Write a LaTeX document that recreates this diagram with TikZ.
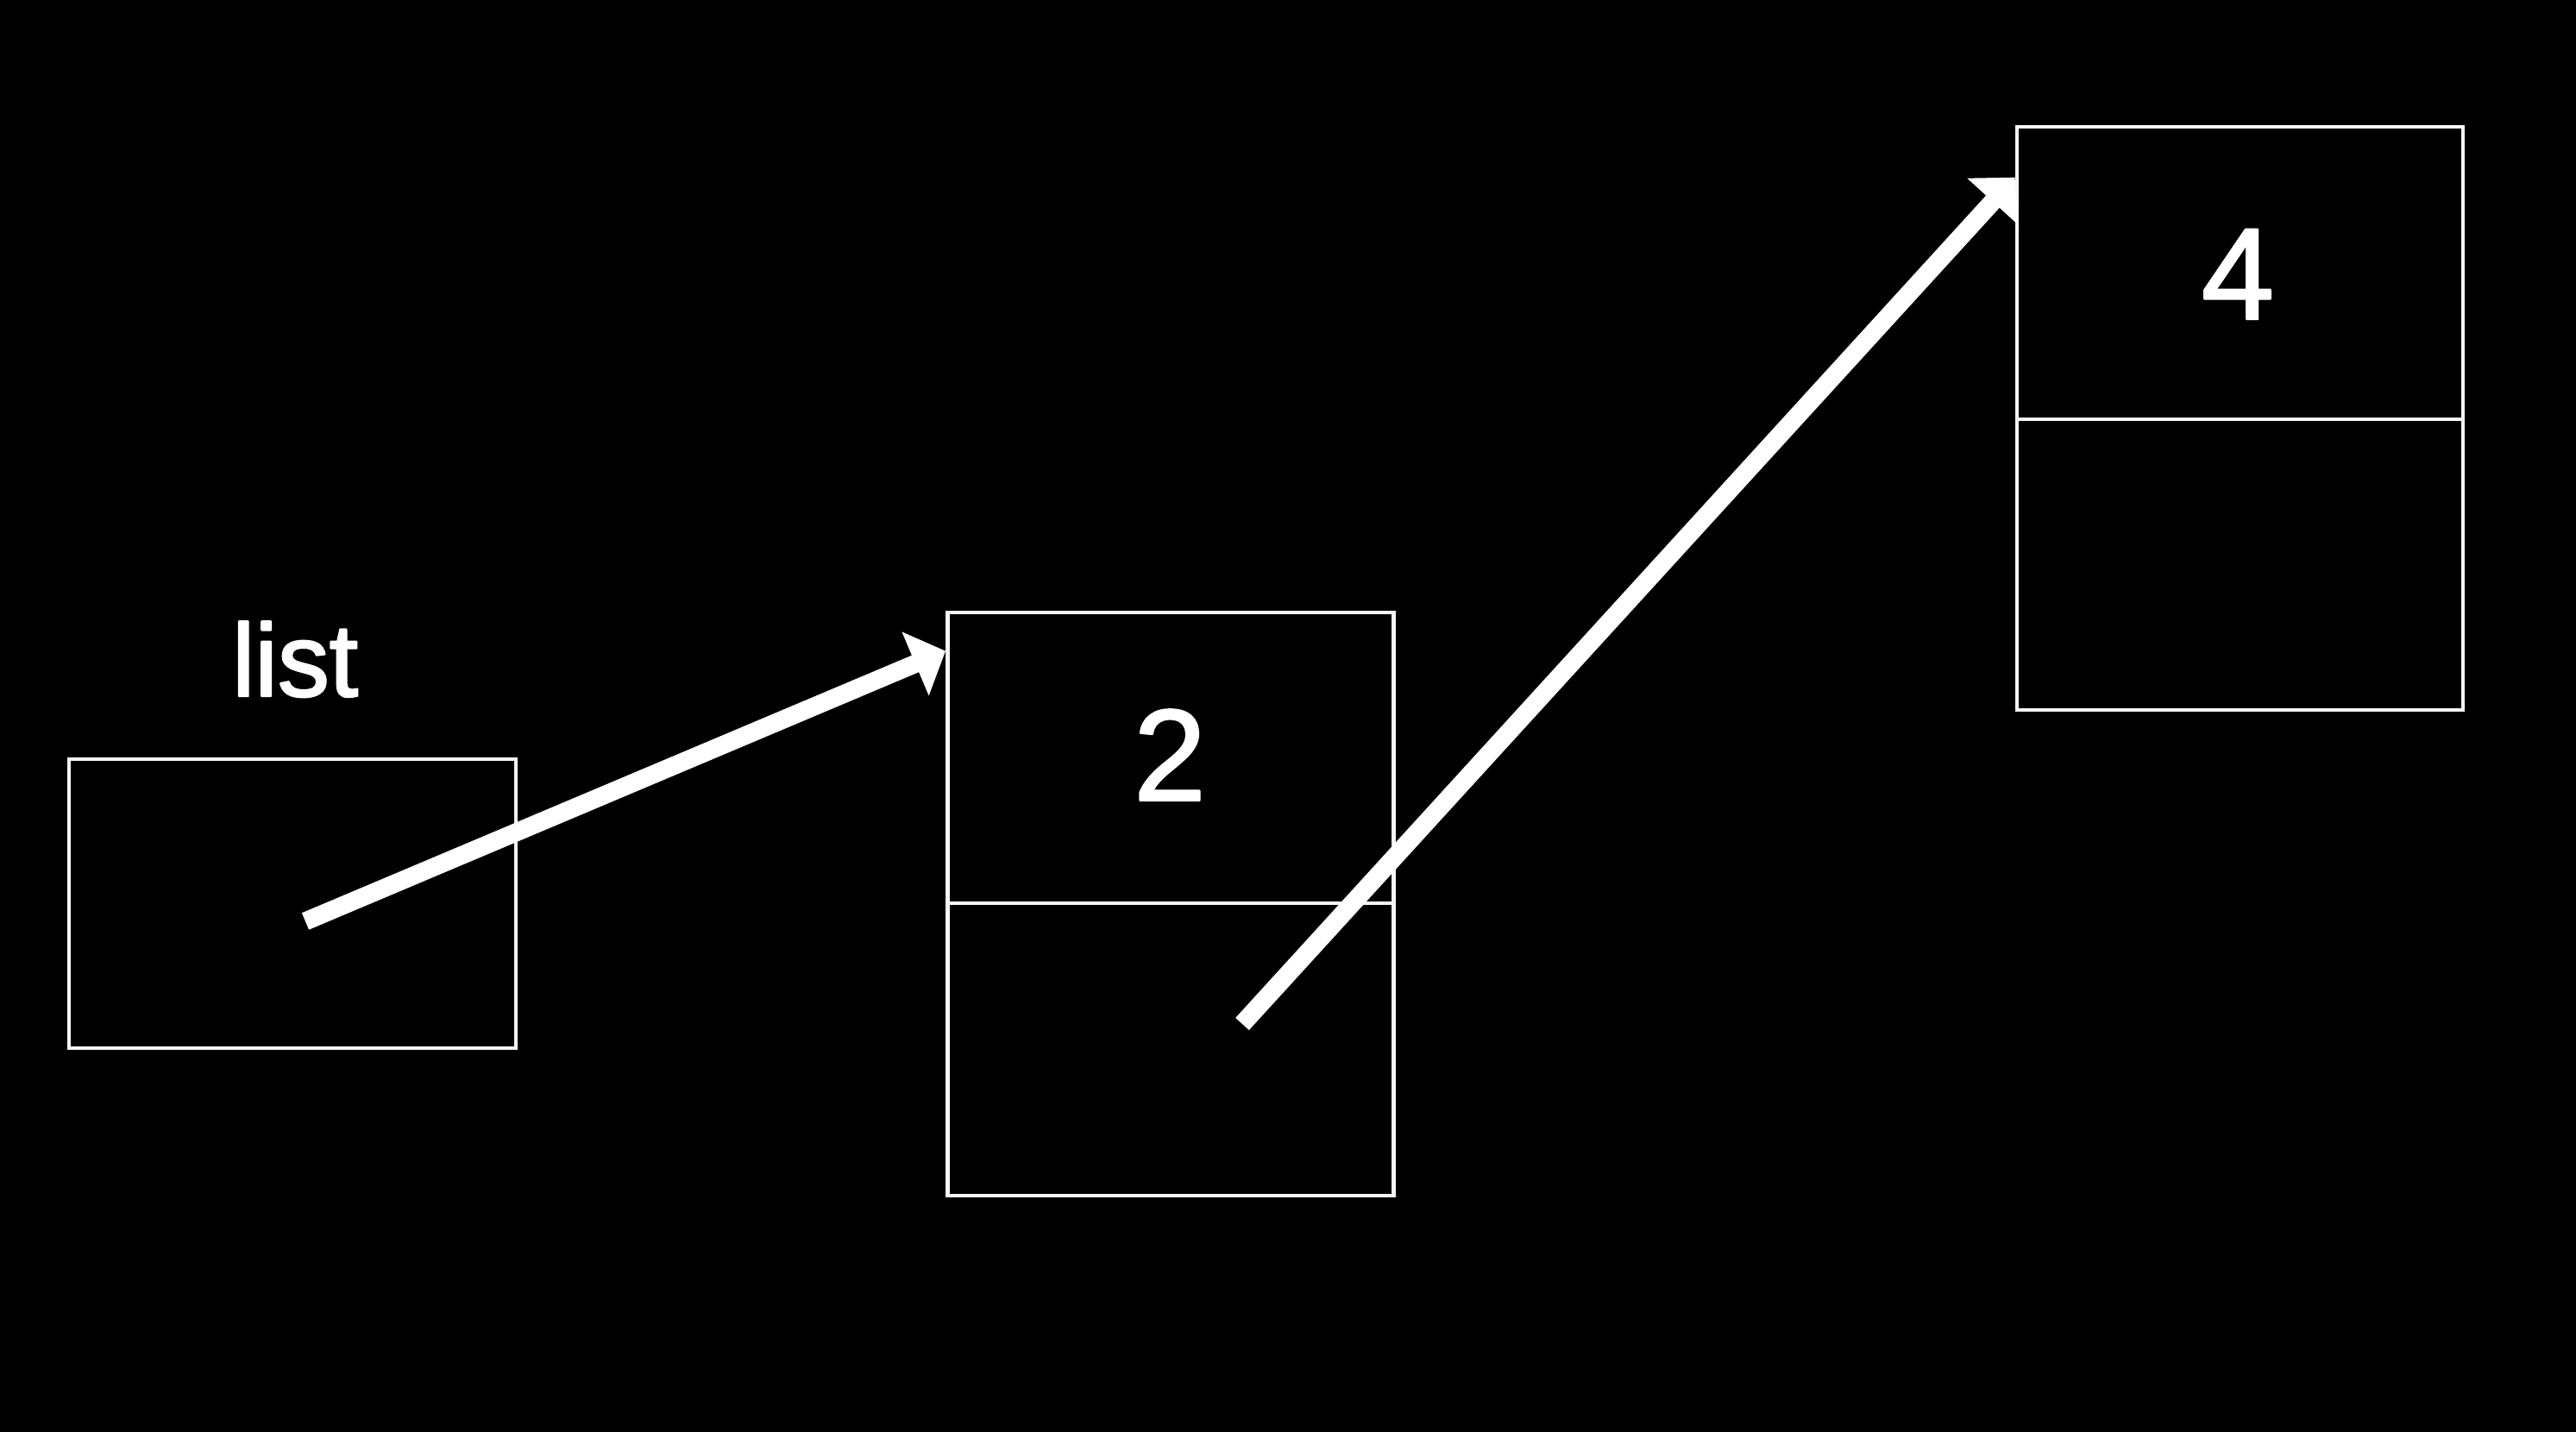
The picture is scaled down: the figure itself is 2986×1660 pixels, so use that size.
\documentclass[tikz,border=0pt]{standalone}
\usepackage{fontspec}
\setmainfont{Liberation Sans}
\usetikzlibrary{arrows.meta,calc}
\newcommand\thicktext[1]{\special{pdf:literal direct 1 1 1 RG 0.7 w 1 j 2 Tr}#1\special{pdf:literal direct 0 Tr}}
\tikzset{
  cell/.style={draw=white!92!gray, line width=1.3pt, rectangle, inner sep=0pt, minimum width=5.17cm},
  ptr/.style={draw=white, line width=6pt, -{Triangle[length=0.38cm,width=0.78cm]}},
  lbl/.style={text=white, font=\fontsize{34}{40}\selectfont, anchor=base},
  val/.style={text=white, font=\fontsize{43}{50}\selectfont, anchor=base},
}
\begin{document}
\begin{tikzpicture}[x=0.01cm,y=-0.01cm]
\fill[black] (0,0) rectangle (2986,1660);
\useasboundingbox (0,0) rectangle (2986,1660);
% list pointer box
\node[cell, minimum width=5.18cm, minimum height=3.35cm] (lst) at (339,1047.5) {};
\node[lbl] (lsttxt) at (342,807) {\thicktext{list}};
% node 2
\node[cell, minimum height=3.37cm] (n2top) at (1357,878.5) {};
\node[cell, minimum height=3.39cm] (n2bot) at (1357,1216.5) {};
\node[val] (v2) at (1356,928) {\thicktext{2}};
% node 4
\node[cell, minimum height=3.39cm] (n4top) at (2596.5,316.5) {};
\node[cell, minimum height=3.37cm] (n4bot) at (2596.5,654.5) {};
\node[val] (v4) at (2594,370) {\thicktext{4}};
% pointers
\coordinate (p1) at (354,1068);
\coordinate (p2) at (1440,1187);
\draw[ptr] (p1) -- ($(n2top.north west)+(0,47)$);
\draw[ptr] (p2) -- ($(n4top.north west)+(0,61)$);
\end{tikzpicture}
\end{document}
